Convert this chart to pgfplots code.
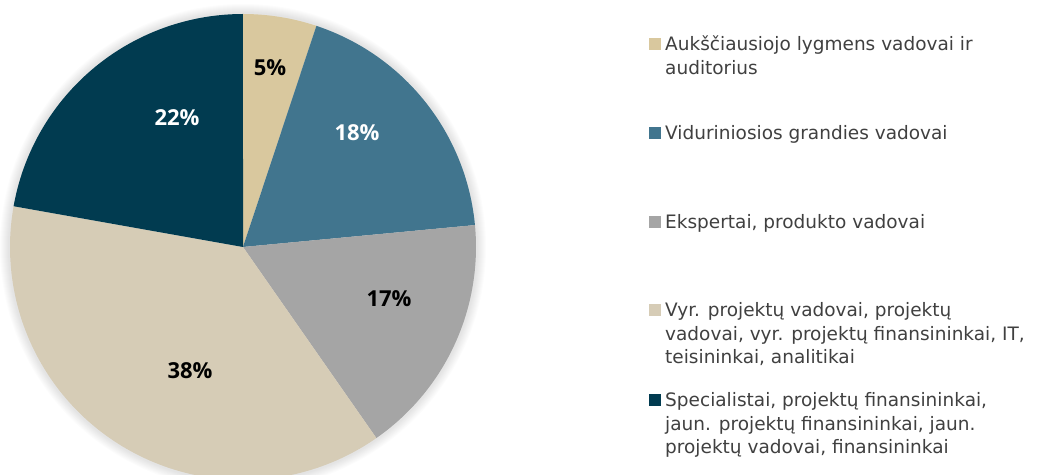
\documentclass[border=0pt]{standalone}
\usepackage{pgfplots}
\pgfplotsset{compat=1.18}
\usepackage{fontspec}
\setmainfont{DejaVu Sans}
\newfontfamily\labfont{Open Sans}
\definecolor{cA}{HTML}{D9C89E}
\definecolor{cB}{HTML}{41758E}
\definecolor{cC}{HTML}{A5A5A5}
\definecolor{cD}{HTML}{D6CCB6}
\definecolor{cE}{HTML}{013B50}
\definecolor{legtxt}{HTML}{404040}
% shares (%): 5.1, 18.4, 16.8, 37.5, 22.2
% cumulative angles (deg, clockwise from top): 0, 18.36, 84.6, 145.08, 280.08, 360
\begin{document}
\begin{tikzpicture}
\begin{axis}[width=1046bp, height=474bp, scale only axis,
  xmin=0, xmax=1046, ymin=0, ymax=474, hide axis, clip=true]
% soft shadow
\pgfplotsinvokeforeach{235,236,237,238,239,240,241,242,243}{
  \fill[black, opacity=0.012] (axis cs:243,227) circle[radius=#1bp];
}
\addplot[fill=cA, draw=none, domain=0:18.36, samples=30, variable=\t]
  ({243+233*sin(\t)},{227+233*cos(\t)}) -- (243,227) -- cycle;
\addplot[fill=cB, draw=none, domain=18.36:84.6, samples=80, variable=\t]
  ({243+233*sin(\t)},{227+233*cos(\t)}) -- (243,227) -- cycle;
\addplot[fill=cC, draw=none, domain=84.6:145.08, samples=80, variable=\t]
  ({243+233*sin(\t)},{227+233*cos(\t)}) -- (243,227) -- cycle;
\addplot[fill=cD, draw=none, domain=145.08:280.08, samples=150, variable=\t]
  ({243+233*sin(\t)},{227+233*cos(\t)}) -- (243,227) -- cycle;
\addplot[fill=cE, draw=none, domain=280.08:360, samples=90, variable=\t]
  ({243+233*sin(\t)},{227+233*cos(\t)}) -- (243,227) -- cycle;
% data labels
\tikzset{lab/.style={font=\labfont\bfseries\fontsize{22bp}{26bp}\selectfont}}
\node[lab, text=black] at (axis cs:270,406) {5\%};
\node[lab, text=white] at (axis cs:357,341) {18\%};
\node[lab, text=black] at (axis cs:389,175) {17\%};
\node[lab, text=black] at (axis cs:190,103) {38\%};
\node[lab, text=white] at (axis cs:177,356) {22\%};
% legend
\tikzset{lg/.style={anchor=base west, inner sep=0pt, text=legtxt, font=\fontsize{18.5bp}{23bp}\selectfont}}
\fill[cA] (axis cs:649,424) rectangle (axis cs:661,436);
\fill[cB] (axis cs:649,335) rectangle (axis cs:661,347);
\fill[cC] (axis cs:649,246) rectangle (axis cs:661,258);
\fill[cD] (axis cs:649,158) rectangle (axis cs:661,170);
\fill[cE] (axis cs:649,68) rectangle (axis cs:661,80);
\node[lg] at (axis cs:665,423.3) {Aukščiausiojo lygmens vadovai ir};
\node[lg] at (axis cs:665,399.8) {auditorius};
\node[lg] at (axis cs:665,334.3) {Viduriniosios grandies vadovai};
\node[lg] at (axis cs:665,245.3) {Ekspertai, produkto vadovai};
\node[lg] at (axis cs:665,157.3) {Vyr. projektų vadovai, projektų};
\node[lg] at (axis cs:665,133.8) {vadovai, vyr. projektų finansininkai, IT,};
\node[lg] at (axis cs:665,110.3) {teisininkai, analitikai};
\node[lg] at (axis cs:665,67.3) {Specialistai, projektų finansininkai,};
\node[lg] at (axis cs:665,43.8) {jaun. projektų finansininkai, jaun.};
\node[lg] at (axis cs:665,20.3) {projektų vadovai, finansininkai};
\end{axis}
\pgfresetboundingbox
\path[use as bounding box] (current axis.south west) rectangle (current axis.north east);
\end{tikzpicture}
\end{document}
